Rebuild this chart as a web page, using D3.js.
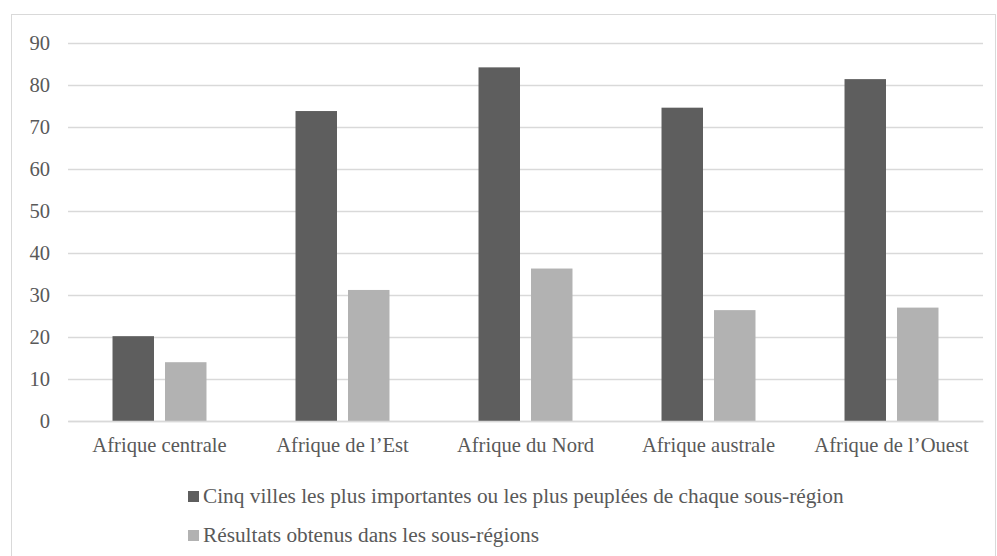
<!DOCTYPE html>
<html>
<head>
<meta charset="utf-8">
<script src="https://cdn.jsdelivr.net/npm/d3@7"></script>
<style>
  html, body { margin: 0; padding: 0; background: #fff; }
  svg { display: block; }
</style>
</head>
<body>
<svg id="chart" width="997" height="556"></svg>
<script>
const categories = ["Afrique centrale", "Afrique de l\u2019Est", "Afrique du Nord", "Afrique australe", "Afrique de l\u2019Ouest"];
const seriesNames = [
  "Cinq villes les plus importantes ou les plus peuplées de chaque sous-région",
  "Résultats obtenus dans les sous-régions"
];
const seriesA = [20.2, 73.8, 84.2, 74.6, 81.4];
const seriesB = [14.0, 31.2, 36.3, 26.4, 27.0];
const yTicks = [0, 10, 20, 30, 40, 50, 60, 70, 80, 90];
const colors = ["#5e5e5e", "#b2b2b2"];

(function () {
const svg = d3.select("#chart");
const mLeft = 68, mRight = 983, mTop = 43, mBottom = 421;
const FONT = "'Liberation Serif', 'Times New Roman', serif";

// chart border
svg.append("rect")
  .attr("x", 11.5).attr("y", 14.5)
  .attr("width", 984).attr("height", 560)
  .attr("fill", "none").attr("stroke", "#d9d9d9").attr("stroke-width", 1);

const y = d3.scaleLinear().domain([0, 90]).range([mBottom, mTop]);
const x0 = d3.scaleBand().domain(categories).range([mLeft, mRight]).paddingInner(0).paddingOuter(0);
const x1 = d3.scaleBand().domain([0, 1]).range([0, x0.bandwidth()]).paddingInner(0.2095).paddingOuter(0.848);

// gridlines + y labels
const yAxis = d3.axisLeft(y).tickValues(yTicks).tickSize(-(mRight - mLeft)).tickPadding(18).tickFormat(d3.format("d"));
const gy = svg.append("g").attr("transform", `translate(${mLeft},0)`).call(yAxis);
gy.attr("font-family", FONT).attr("font-size", 20.6);
gy.select(".domain").remove();
gy.selectAll(".tick line").attr("stroke", "#d9d9d9").attr("stroke-width", 1.3);
gy.selectAll(".tick text").attr("fill", "#595959");

// bars
const data = categories.map((c, i) => ({ c, vals: [seriesA[i], seriesB[i]] }));
const groups = svg.append("g").selectAll("g").data(data).join("g")
  .attr("transform", d => `translate(${x0(d.c)},0)`);
groups.selectAll("rect").data(d => d.vals.map((v, k) => ({ v, k }))).join("rect")
  .attr("x", d => x1(d.k))
  .attr("width", x1.bandwidth())
  .attr("y", d => y(d.v))
  .attr("height", d => y(0) - y(d.v))
  .attr("fill", d => colors[d.k]);

// x axis
const xAxis = d3.axisBottom(x0).tickSize(0).tickPadding(16);
const gx = svg.append("g").attr("transform", `translate(0,${mBottom})`).call(xAxis);
gx.attr("font-family", FONT).attr("font-size", 20.6);
gx.select(".domain").attr("stroke", "#d9d9d9").attr("stroke-width", 1.5);
gx.selectAll(".tick text").attr("fill", "#595959");

// legend
const legendY = [496.5, 535.5];
const lg = svg.append("g").attr("font-family", FONT).attr("font-size", 21.3).attr("fill", "#595959")
  .selectAll("g").data(seriesNames).join("g")
  .attr("transform", (d, i) => `translate(188,${legendY[i]})`);
lg.append("rect").attr("x", 0).attr("y", -5.5).attr("width", 11).attr("height", 11)
  .attr("fill", (d, i) => colors[i]);
lg.append("text").attr("x", 15).attr("y", 6.5).text(d => d);
})();
</script>
</body>
</html>
